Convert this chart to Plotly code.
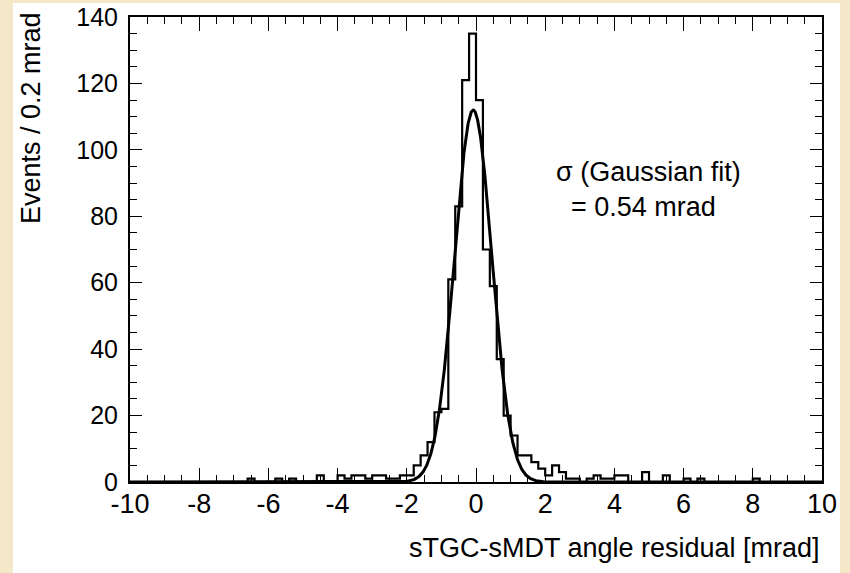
import numpy as np
import plotly.graph_objects as go

# ---------------- data ----------------
bin_width = 0.2
x_min, x_max = -10.0, 10.0
# counts per 0.2 mrad bin, bins from -10 to 10 (100 bins)
counts = [0] * 100
nonzero_bins = {
    # left edge of bin : events
    -6.6: 1, -5.8: 1, -5.4: 1, -4.6: 2,
    -4.0: 2, -3.8: 1, -3.6: 2, -3.4: 2, -3.2: 1, -3.0: 2, -2.8: 2,
    -2.6: 1, -2.4: 1, -2.2: 2, -2.0: 2, -1.8: 5, -1.6: 8, -1.4: 12,
    -1.2: 21, -1.0: 22, -0.8: 61, -0.6: 83, -0.4: 121, -0.2: 135,
    0.0: 115, 0.2: 70, 0.4: 59, 0.6: 37, 0.8: 20, 1.0: 14, 1.2: 8,
    1.4: 8, 1.6: 6, 1.8: 4, 2.0: 2, 2.2: 5, 2.4: 3, 2.6: 1, 2.8: 1,
    3.2: 1, 3.4: 2, 3.6: 1, 3.8: 1, 4.0: 2, 4.2: 2, 4.8: 3, 5.4: 2,
    6.0: 1, 6.4: 1, 8.0: 1,
}
for edge, n in nonzero_bins.items():
    counts[int(round((edge - x_min) / bin_width))] = n

# Gaussian fit parameters
fit_amplitude = 112.0
fit_mean = -0.08
fit_sigma = 0.54

x_tick_vals = [-10, -8, -6, -4, -2, 0, 2, 4, 6, 8, 10]
x_tick_text = ["-10", "-8", "-6", "-4", "-2", "0", "2", "4", "6", "8", "10"]
y_tick_vals = [0, 20, 40, 60, 80, 100, 120, 140]

x_title = "sTGC-sMDT angle residual [mrad]"
y_title = "Events / 0.2 mrad"
fit_label_1 = "σ (Gaussian fit)"
fit_label_2 = "= 0.54 mrad"

# ---------------- figure ----------------
edges = np.round(np.arange(len(counts) + 1) * bin_width + x_min, 6)
step_x = list(edges)
step_y = list(counts) + [counts[-1]]

fx = np.linspace(x_min, x_max, 2001)
fy = fit_amplitude * np.exp(-0.5 * ((fx - fit_mean) / fit_sigma) ** 2)

fig = go.Figure()
fig.add_trace(go.Scatter(x=step_x, y=step_y, mode="lines",
                         line=dict(shape="hv", color="black", width=2.2),
                         showlegend=False, hoverinfo="skip"))
fig.add_trace(go.Scatter(x=fx, y=fy, mode="lines",
                         line=dict(color="black", width=3),
                         showlegend=False, hoverinfo="skip"))

W, H = 850, 573
ml, mr, mt, mb = 130, 28, 17, 91
pw, ph = W - ml - mr, H - mt - mb

def px(xp):
    return (xp - ml) / pw

def py(yp):
    return (H - mb - yp) / ph

font_family = "Liberation Sans, Arial, sans-serif"

fig.update_layout(
    width=W, height=H,
    margin=dict(l=ml, r=mr, t=mt, b=mb, pad=0, autoexpand=False),
    paper_bgcolor="#f3e9c8",
    plot_bgcolor="white",
    font=dict(family=font_family, color="black", size=26),
    shapes=[dict(type="rect", xref="paper", yref="paper",
                 x0=px(13), x1=px(840), y0=py(573), y1=py(3),
                 fillcolor="white", line=dict(width=0), layer="below")],
    annotations=[
        dict(text=y_title, xref="paper", yref="paper", x=px(31), y=py(10),
             xanchor="center", yanchor="top", textangle=-90, showarrow=False,
             font=dict(size=27)),
        dict(text=x_title, xref="paper", yref="paper", x=px(822), y=py(548),
             xanchor="right", yanchor="middle", showarrow=False,
             font=dict(size=27)),
        dict(text=fit_label_1, xref="paper", yref="paper", x=px(648), y=py(172),
             xanchor="center", yanchor="middle", showarrow=False,
             font=dict(size=27)),
        dict(text=fit_label_2, xref="paper", yref="paper", x=px(643), y=py(207),
             xanchor="center", yanchor="middle", showarrow=False,
             font=dict(size=27)),
    ],
)

fig.update_xaxes(
    range=[x_min, x_max], tickmode="array", tickvals=x_tick_vals, ticktext=x_tick_text,
    ticks="inside", ticklen=14, tickwidth=1, tickcolor="black",
    minor=dict(tick0=-10, dtick=0.5, ticks="inside", ticklen=7, tickwidth=1, tickcolor="black"),
    showline=True, linewidth=2, linecolor="black", mirror="ticks",
    showgrid=False, zeroline=False, tickfont=dict(size=27), ticklabelstandoff=-3,
    automargin=False,
)
fig.update_yaxes(
    range=[0, 140], tickmode="array", tickvals=y_tick_vals,
    ticks="inside", ticklen=12, tickwidth=1, tickcolor="black",
    minor=dict(tick0=0, dtick=5, ticks="inside", ticklen=7, tickwidth=1, tickcolor="black"),
    showline=True, linewidth=2, linecolor="black", mirror="ticks",
    showgrid=False, zeroline=False, tickfont=dict(size=25), ticklabelstandoff=5,
    automargin=False,
)

fig.write_html("out.html")
